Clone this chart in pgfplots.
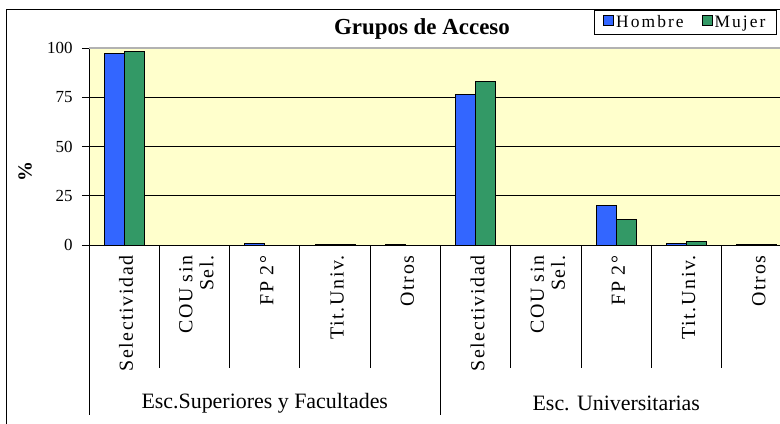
\documentclass[border=0pt]{standalone}
\usepackage{pgfplots}
\pgfplotsset{compat=1.18}
\usepackage{fontspec}
\setmainfont{Liberation Serif}
\newfontfamily\catfont[LetterSpace=8]{Liberation Serif}
\newfontfamily\legfont[LetterSpace=12]{Liberation Serif}
\definecolor{hblue}{HTML}{3366FF}
\definecolor{mgreen}{HTML}{339966}
\definecolor{bgyel}{HTML}{FFFFCC}
\begin{document}
\begin{tikzpicture}
\begin{axis}[
 scale only axis, width=691bp, height=197bp,
 xmin=-0.5, xmax=9.329, ymin=0, ymax=100,
 clip=false,
 ybar=0pt, bar width=20bp,
 axis background/.style={fill=bgyel},
 axis x line*=bottom, axis y line*=left,
 axis line style={line width=1bp, -},
 ytick={0,25,50,75,100},
 ymajorgrids, grid style={black, line width=1bp},
 tick align=outside, major tick length=7bp,
 ytick style={black, line width=1bp},
 xtick={0,...,9}, xtick style={draw=none},
 xticklabels={Selectividad, {COU sin\\Sel.}, FP 2°, Tit.Univ., Otros, Selectividad, {COU sin\\Sel.}, FP 2°, Tit.Univ., Otros},
 xticklabel style={rotate=90, anchor=east, align=right, font=\catfont\fontsize{20}{21}\selectfont, yshift=-2bp},
 yticklabel style={font=\fontsize{17}{18}\selectfont, xshift=-6bp},
 /pgf/number format/assume math mode=true,
 legend style={at={(rel axis cs:0.99566,1.19289)}, anchor=north east, legend columns=2,
   draw=black, line width=1bp, fill=white, font=\legfont\fontsize{17.5}{18}\selectfont,
   inner xsep=9bp, inner ysep=3bp, nodes={inner sep=2bp},
   /tikz/every even column/.append style={column sep=16bp}},
 legend image code/.code={\draw[#1, draw=black, line width=0.8bp] (0bp,-3bp) rectangle (10bp,7bp);},
]
\addplot[fill=hblue, draw=black, line width=1bp] coordinates {(0,97.3) (1,0) (2,0.7) (3,0.5) (4,0.5) (5,76.6) (6,0) (7,19.9) (8,0.7) (9,0.5)};
\addlegendentry{Hombre}
\addplot[fill=mgreen, draw=black, line width=1bp] coordinates {(0,98.1) (1,0) (2,0) (3,0.5) (4,0) (5,83.1) (6,0) (7,12.8) (8,2) (9,0.5)};
\addlegendentry{Mujer}
\draw[gray!60, line width=1.5bp] (rel axis cs:0,1) -- (rel axis cs:1,1);
\draw[line width=1bp] (axis cs:0.5,0) -- (axis cs:0.5,-62.44);
\draw[line width=1bp] (axis cs:1.5,0) -- (axis cs:1.5,-62.44);
\draw[line width=1bp] (axis cs:2.5,0) -- (axis cs:2.5,-62.44);
\draw[line width=1bp] (axis cs:3.5,0) -- (axis cs:3.5,-62.44);
\draw[line width=1bp] (axis cs:5.5,0) -- (axis cs:5.5,-62.44);
\draw[line width=1bp] (axis cs:6.5,0) -- (axis cs:6.5,-62.44);
\draw[line width=1bp] (axis cs:7.5,0) -- (axis cs:7.5,-62.44);
\draw[line width=1bp] (axis cs:8.5,0) -- (axis cs:8.5,-62.44);
\draw[line width=1bp] (axis cs:-0.5,0) -- (axis cs:-0.5,-86.3);
\draw[line width=1bp] (axis cs:4.5,0) -- (axis cs:4.5,-86.3);
\node[font=\bfseries\fontsize{23}{25}\selectfont] at (rel axis cs:0.4819,1.0964) {Grupos de Acceso};
\node[rotate=90, font=\bfseries\fontsize{20}{22}\selectfont] at (rel axis cs:-0.0926,0.3706) {\%};
\node[font=\fontsize{22}{24}\selectfont] at (axis cs:2,-80.2) {Esc.Superiores y Facultades};
\node[font=\fontsize{22}{24}\selectfont] at (axis cs:7,-80.2) {Esc. Universitarias};
\draw[line width=1bp] (rel axis cs:-0.11867,-0.95) -- (rel axis cs:-0.11867,1.198) -- (rel axis cs:1.01,1.198);
\coordinate (bbA) at (rel axis cs:-0.1288,-0.9036);
\coordinate (bbB) at (rel axis cs:1,1.2437);
\end{axis}
\pgfresetboundingbox
\path (bbA) rectangle (bbB);
\end{tikzpicture}
\end{document}
